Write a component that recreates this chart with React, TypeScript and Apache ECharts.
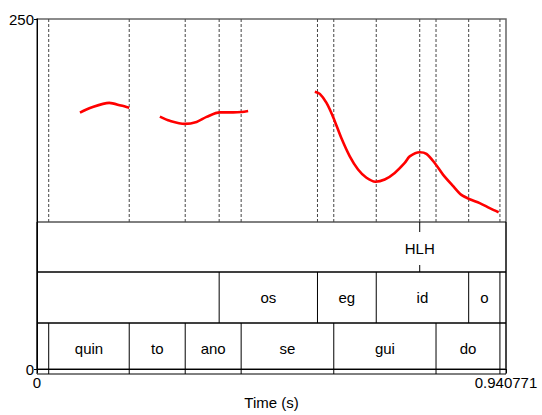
import React, { useEffect, useRef } from "react";
import * as echarts from "echarts";

const FONT = "Liberation Sans";
const X_MAX = 0.940771;
const xTicks = [0, 0.940771];
const xTickLabels = ["0", "0.940771"];
const yTicks = [0, 250];

// pitch contour (time s, Hz)
const pitchSeg1 = [
  [0.0862, 183.1], [0.1062, 186.4], [0.1449, 190.1], [0.1684, 188.2], [0.185, 186.6],
];
const pitchSeg2 = [
  [0.2465, 180.3], [0.2666, 177.3], [0.2966, 175.1], [0.3201, 176.5], [0.3401, 180.1],
  [0.3668, 183.3], [0.3935, 183.3], [0.4103, 183.6], [0.4235, 184.3],
];
const pitchSeg3 = [
  [0.5573, 198.1], [0.5673, 196.5], [0.5807, 190.1], [0.5939, 180.1], [0.6107, 164.8],
  [0.6274, 151.9], [0.644, 142.5], [0.6609, 136.6], [0.6789, 133.8], [0.6975, 135.4],
  [0.7176, 140.1], [0.7376, 147.2], [0.7476, 151.9], [0.7677, 154.9], [0.7811, 153.7],
  [0.7977, 147.2], [0.8144, 138.9], [0.8344, 130.8], [0.8513, 124.4], [0.8679, 121.3],
  [0.888, 118.5], [0.908, 115.0], [0.926, 112.0],
];

// tier 1: point tier (tones)
const tonePoints = [0.7677];
const toneLabels = ["HLH"];
// tier 2: segments
const segmentBounds = [0.3654, 0.5626, 0.6805, 0.8659, 0.9286];
const segmentLabels = ["", "os", "eg", "id", "o", ""];
// tier 3: syllables
const syllableBounds = [0.0235, 0.185, 0.2973, 0.4095, 0.5953, 0.8004, 0.9286];
const syllableLabels = ["", "quin", "to", "ano", "se", "gui", "do", ""];

function intervals(bounds: number[], labels: string[]) {
  const edges = [0, ...bounds, X_MAX];
  const out: { mid: number; label: string }[] = [];
  for (let i = 0; i < labels.length; i++) {
    if (labels[i] !== "") out.push({ mid: (edges[i] + edges[i + 1]) / 2, label: labels[i] });
  }
  return out;
}

export default function App() {
  const ref = useRef<HTMLDivElement>(null);
  useEffect(() => {
    const chart = echarts.init(ref.current as HTMLDivElement, null, { renderer: "svg" });
    const L = 37, R = 36;
    const allBounds = Array.from(new Set([...syllableBounds, ...segmentBounds, ...tonePoints])).sort((a, b) => a - b);

    const vline = (axisIdx: number, stroke: string, dash: number[] | null) => ({
      type: "custom",
      xAxisIndex: axisIdx,
      yAxisIndex: axisIdx,
      silent: true,
      z: 3,
      encode: { x: 0, y: 1 },
      data: [] as number[][],
      renderItem: (_p: any, api: any) => {
        const a = api.coord([api.value(0), 1]);
        const b = api.coord([api.value(0), 0]);
        return {
          type: "line",
          shape: { x1: a[0], y1: a[1], x2: b[0], y2: b[1] },
          style: { stroke, lineWidth: 1, lineDash: dash || undefined },
        };
      },
    });

    const textSeries = (axisIdx: number, items: { mid: number; label: string }[]) => ({
      type: "custom",
      xAxisIndex: axisIdx,
      yAxisIndex: axisIdx,
      silent: true,
      z: 4,
      encode: { x: 0, y: 1 },
      data: items.map((it) => [it.mid, 0.5]),
      renderItem: (p: any, api: any) => {
        const c = api.coord([api.value(0), 0.5]);
        return {
          type: "text",
          x: c[0],
          y: c[1],
          style: {
            text: items[p.dataIndex].label,
            fill: "#000",
            fontSize: 15,
            fontFamily: FONT,
            align: "center",
            verticalAlign: "middle",
          },
        };
      },
    });

    const dotted = vline(1, "#444", [3, 2]);
    dotted.data = allBounds.map((t) => [t, 0]);
    const seg2Lines = vline(3, "#000", null);
    seg2Lines.data = segmentBounds.map((t) => [t, 0]);
    const syl3Lines = vline(4, "#000", null);
    syl3Lines.data = syllableBounds.map((t) => [t, 0]);

    const toneSeries = {
      type: "custom",
      xAxisIndex: 2,
      yAxisIndex: 2,
      silent: true,
      z: 4,
      encode: { x: 0, y: 1 },
      data: tonePoints.map((t) => [t, 0.5]),
      renderItem: (p: any, api: any) => {
        const top = api.coord([api.value(0), 1]);
        const bot = api.coord([api.value(0), 0]);
        const mid = api.coord([api.value(0), 0.5]);
        return {
          type: "group",
          children: [
            { type: "line", shape: { x1: top[0], y1: top[1], x2: top[0], y2: top[1] + 10 }, style: { stroke: "#000", lineWidth: 1 } },
            { type: "line", shape: { x1: bot[0], y1: bot[1] - 7, x2: bot[0], y2: bot[1] }, style: { stroke: "#000", lineWidth: 1 } },
            {
              type: "text",
              x: mid[0],
              y: mid[1] + 1,
              style: { text: toneLabels[p.dataIndex], fill: "#000", fontSize: 15, fontFamily: FONT, align: "center", verticalAlign: "middle" },
            },
          ],
        };
      },
    };

    const pitchLine = (data: number[][]) => ({
      type: "line",
      xAxisIndex: 0,
      yAxisIndex: 0,
      data,
      showSymbol: false,
      smooth: 0.3,
      silent: true,
      z: 6,
      lineStyle: { color: "#ff0000", width: 2.6 },
    });

    const hiddenX = (i: number) => ({ gridIndex: i, type: "value", min: 0, max: X_MAX, show: false });
    const hiddenY = (i: number) => ({ gridIndex: i, type: "value", min: 0, max: 1, show: false });

    chart.setOption({
      animation: false,
      backgroundColor: "#fff",
      textStyle: { fontFamily: FONT },
      grid: [
        { left: L, right: R, top: 19, bottom: 41, show: true, borderColor: "#666", borderWidth: 1.5 },
        { left: L, right: R, top: 19, height: 203 },
        { left: L, right: R, top: 222, height: 50, show: true, borderColor: "#000", borderWidth: 1 },
        { left: L, right: R, top: 272, height: 51, show: true, borderColor: "#000", borderWidth: 1 },
        { left: L, right: R, top: 323, height: 51, show: true, borderColor: "#000", borderWidth: 1 },
      ],
      xAxis: [
        {
          gridIndex: 0,
          type: "value",
          min: xTicks[0],
          max: X_MAX,
          interval: X_MAX,
          axisLine: { show: true, lineStyle: { color: "#000", width: 1 } },
          axisTick: { show: true, length: 4, lineStyle: { color: "#000" } },
          axisLabel: {
            color: "#000",
            fontSize: 15,
            fontFamily: FONT,
            margin: 6,
            formatter: (v: number) => {
              const i = xTicks.findIndex((t) => Math.abs(t - v) < 1e-6);
              return i >= 0 ? xTickLabels[i] : "";
            },
          },
          splitLine: { show: false },
          name: "Time (s)",
          nameLocation: "middle",
          nameGap: 25,
          nameTextStyle: { color: "#000", fontSize: 15, fontFamily: FONT },
        },
        hiddenX(1), hiddenX(2), hiddenX(3), hiddenX(4),
      ],
      yAxis: [
        {
          gridIndex: 0,
          type: "value",
          min: yTicks[0],
          max: yTicks[1],
          interval: yTicks[1],
          axisLine: { show: true, lineStyle: { color: "#000", width: 1 } },
          axisTick: { show: true, length: 3, lineStyle: { color: "#000" } },
          axisLabel: { color: "#000", fontSize: 15, fontFamily: FONT, margin: 3 },
          splitLine: { show: false },
        },
        hiddenY(1), hiddenY(2), hiddenY(3), hiddenY(4),
      ],
      series: [
        dotted,
        seg2Lines,
        syl3Lines,
        toneSeries,
        textSeries(3, intervals(segmentBounds, segmentLabels)),
        textSeries(4, intervals(syllableBounds, syllableLabels)),
        pitchLine(pitchSeg1),
        pitchLine(pitchSeg2),
        pitchLine(pitchSeg3),
      ],
    });
    return () => chart.dispose();
  }, []);
  return <div ref={ref} style={{ position: "fixed", left: 0, top: 0, width: 542, height: 415 }} />;
}
